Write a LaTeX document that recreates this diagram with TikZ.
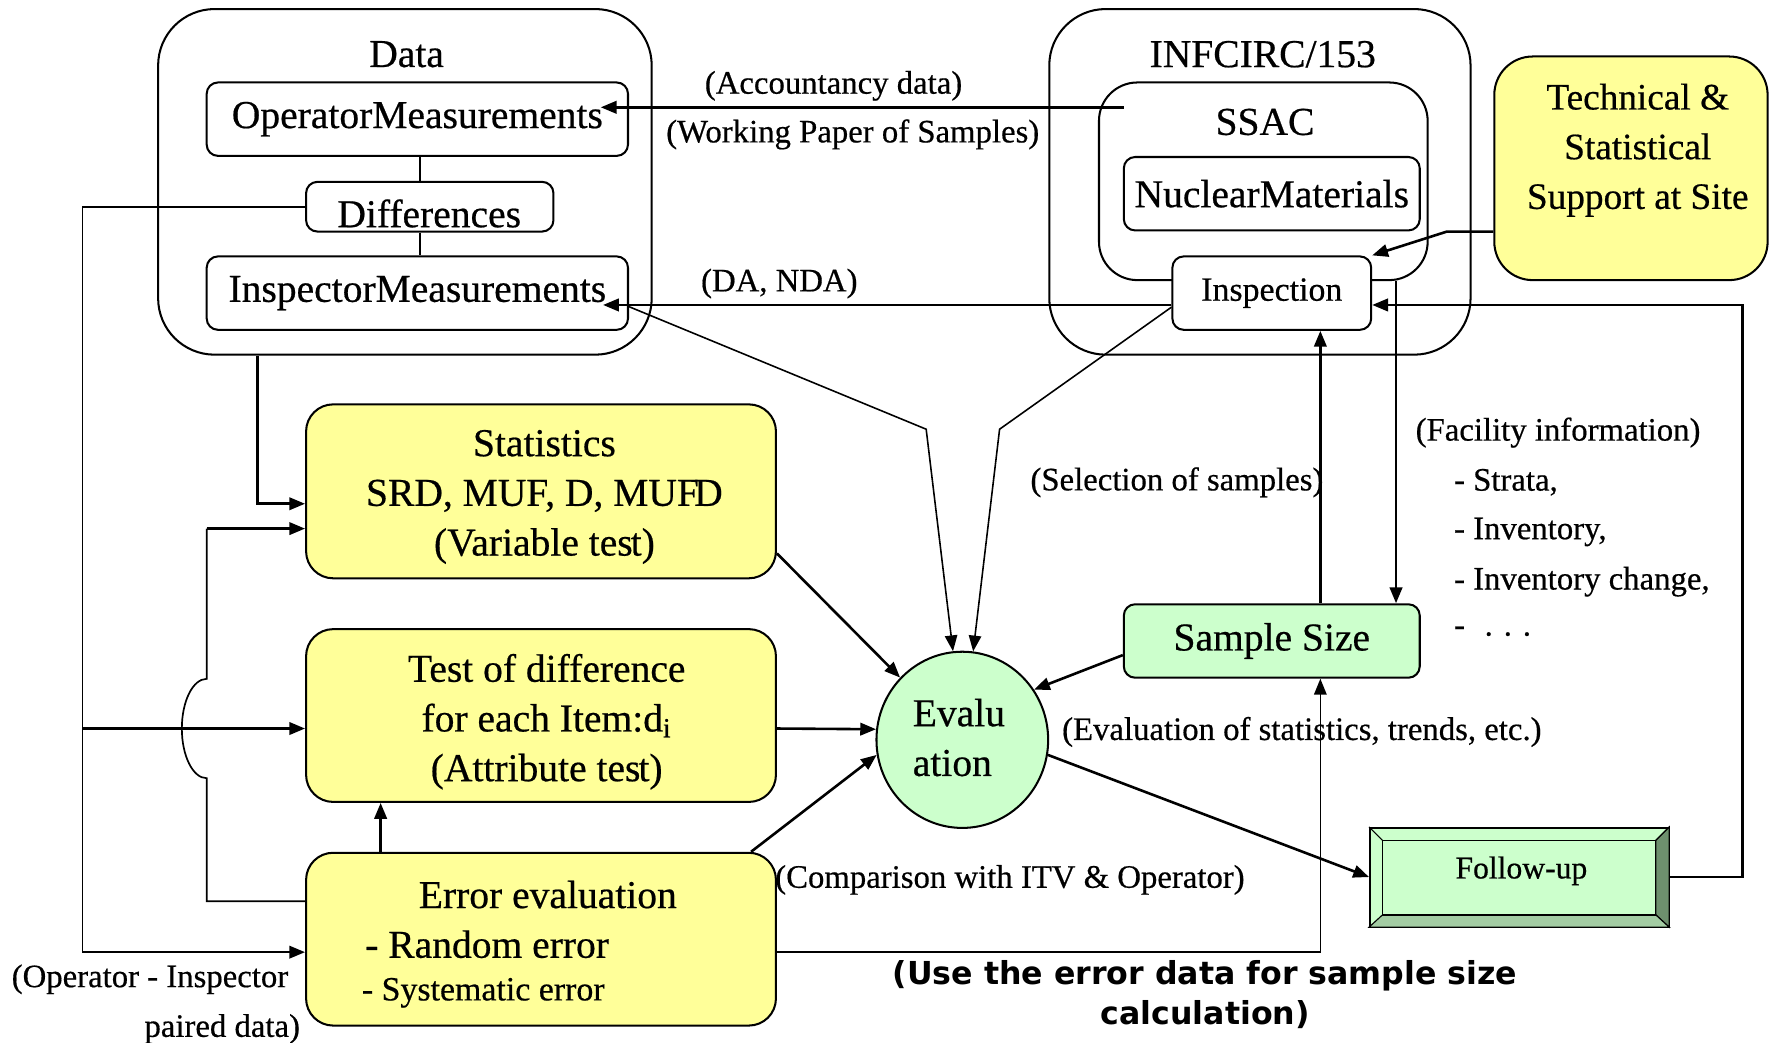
\documentclass[tikz,border=0pt]{standalone}
\usepackage{fontspec}
\setmainfont{Liberation Serif}[FakeBold=0.5]
\newfontfamily\headsans{DejaVu Sans}
\usetikzlibrary{arrows.meta,shapes.geometric}

\definecolor{boxyellow}{HTML}{FFFF99}
\definecolor{boxgreen}{HTML}{CCFFCC}
\definecolor{bevelDark}{HTML}{6E906E}
\definecolor{bevelMid}{HTML}{A3CCA3}

\tikzset{
  big/.style={font=\fontsize{17.5}{22}\selectfont},
  mid/.style={font=\fontsize{15}{19}\selectfont},
  lbl/.style={font=\fontsize{14.5}{18}\selectfont, inner sep=0pt},
  panel/.style={draw, line width=0.9pt, rounded corners=#1, inner sep=0pt},
  plainbox/.style={draw, line width=0.9pt, rounded corners=5pt, fill=white, inner sep=0pt, big},
  ybox/.style={draw, line width=0.9pt, rounded corners=12pt, fill=boxyellow, inner sep=0pt,
    minimum width=208pt, minimum height=76.5pt},
  ytext/.style={big, align=center},
  tip/.style={-{Triangle[length=7pt,width=5.5pt]}},
  arr/.style={line width=1.15pt, tip},
  thinarr/.style={line width=0.7pt, tip},
  wire/.style={line width=0.75pt},
}

\begin{document}
\begin{tikzpicture}[x=0.5pt,y=-0.5pt]
\useasboundingbox (0,0) rectangle (1568,923);

% ---------- Data panel ----------
\node[panel=25pt, minimum width=218.5pt, minimum height=153pt] (data) at (358.5,161) {};
\node[big] (dataLbl) at (360,48) {Data};
\node[plainbox, minimum width=186.5pt, minimum height=32.5pt] (op) at (369.5,105.5) {OperatorMeasurements};
\node[plainbox, minimum width=109.5pt, minimum height=22pt] (diff) at (380.5,183) {};
\node[big] (diffTxt) at (380,189) {Differences};
\node[plainbox, minimum width=186.5pt, minimum height=32.5pt] (im) at (369.5,259.5) {InspectorMeasurements};
\draw[wire] (op.south -| 372,0) -- (diff.north -| 372,0);
\draw[wire] (diff.south -| 372,0) -- (im.north -| 372,0);

% ---------- INFCIRC/153 panel ----------
\node[panel=25pt, minimum width=186.5pt, minimum height=153pt] (infc) at (1115.5,161) {};
\node[big] (infcLbl) at (1118,48) {INFCIRC/153};
\node[panel=17pt, minimum width=145.5pt, minimum height=87.5pt] (ssac) at (1118.5,160.5) {};
\node[big] (ssacLbl) at (1120,108) {SSAC};
\node[plainbox, minimum width=131pt, minimum height=32.5pt] (nm) at (1126,171.5) {NuclearMaterials};
\node[plainbox, mid, minimum width=88pt, minimum height=32.5pt] (insp) at (1126,259.5) {Inspection};

% ---------- support box ----------
\node[panel=17pt, fill=boxyellow, minimum width=121pt, minimum height=99pt] (tech) at (1444,149) {};
\node[align=center, font=\fontsize{16.5}{22}\selectfont] (techTxt) at (1450,133)
      {Technical \&\\Statistical\\Support at Site};

% ---------- analysis boxes ----------
\node[ybox, minimum height=77pt] (stat) at (479,435) {};
\node[ytext] (statTxt) at (482,440) {Statistics\\SRD, MUF, D, MUF\kern-0.12emD\\(Variable tes\kern-0.05emt)};
\node[ybox] (test) at (479,633.5) {};
\node[ytext] (testTxt) at (484,639) {Test of difference\\for each Item:d\textsubscript{i}\\(Attribute tes\kern-0.05emt)};
\node[ybox] (err) at (479,831.5) {};
\node[big] (errT1) at (485,792) {Error evaluation};
\node[big, anchor=west, inner sep=0pt] (errT2) at (323,836) {- Random error};
\node[mid, anchor=west, inner sep=0pt] (errT3) at (320,879) {- Systematic error};

\node[ellipse, draw, line width=0.9pt, fill=boxgreen, minimum width=76pt, minimum height=78pt, inner sep=0pt] (eval) at (852,655) {};
\node[big, align=left] (evalTxt) at (849,653) {Evalu\\ation};

\node[plainbox, fill=boxgreen, minimum width=131pt, minimum height=32.5pt] (sample) at (1126,567.5) {Sample Size};

% ---------- follow-up (bevelled frame) ----------
\node[draw, line width=0.9pt, fill=boxgreen, minimum width=132pt, minimum height=43.5pt, inner sep=0pt] (follow) at (1345,776.5) {};
\coordinate (fiNW) at (1224,744);
\coordinate (fiNE) at (1466,744);
\coordinate (fiSE) at (1466,810);
\coordinate (fiSW) at (1224,810);
\filldraw[line width=0.5pt, fill=bevelDark] (follow.north east) -- (follow.south east) -- (fiSE) -- (fiNE) -- cycle;
\filldraw[line width=0.5pt, fill=bevelMid] (follow.south west) -- (follow.south east) -- (fiSE) -- (fiSW) -- cycle;
\draw[line width=0.5pt] (follow.north west) -- (fiNW) (follow.north east) -- (fiNE);
\draw[line width=0.6pt] (fiNW) rectangle (fiSE);
\node[font=\fontsize{14}{17}\selectfont] (followTxt) at (1347,771) {Follow-up};

% ---------- connectors at the top ----------
\coordinate (accStart) at (995,95);
\draw[arr] (accStart) -- ([xshift=-12.5pt,yshift=5.25pt]op.east);
\draw[arr] ([yshift=-5.25pt]insp.west) -- ([xshift=-11.5pt,yshift=-5.25pt]im.east);
\draw[arr] ([yshift=-28pt]tech.west) -- ++(-41,0) -- (insp.north east);

\coordinate (inspR) at ([yshift=-5.25pt]insp.east);
\coordinate (rightRail) at (1543,0);
\draw[arr] (follow.east) -- (follow.east -| rightRail) -- (rightRail |- inspR) -- (inspR);

\coordinate (fac) at ([xshift=55pt]sample.north);
\draw[arr] (fac |- ssac.south) -- (fac);
\draw[arr] ([xshift=21.5pt]sample.north) -- ([xshift=21.5pt]insp.south);

% ---------- inputs of the evaluation ----------
\draw[thinarr] ([yshift=-6pt]im.east) -- (820,380) -- (eval.96);
\draw[thinarr] ([yshift=-6.25pt]insp.west) -- (885,380) -- (eval.83);
\draw[arr] ([yshift=-27.5pt]stat.east) -- (eval.135);
\draw[arr] ([yshift=-5.75pt]test.east) -- (eval.173);
\draw[arr] ([xshift=93pt]err.north) -- (eval.190);
\draw[arr] ([yshift=-6.25pt]sample.west) -- (eval.35);
\draw[arr] (eval.-10) -- (follow.west);
\draw[wire, tip] ([yshift=-5.75pt]err.east) -| ([xshift=21.5pt]sample.south);

% ---------- data feeds on the left ----------
\coordinate (leftRail) at (73,0);
\coordinate (errIn) at ([yshift=-5.75pt]err.west);
\coordinate (testIn) at ([yshift=-5.75pt]test.west);
\draw[wire] (diff.west) -| (leftRail |- errIn);
\draw[arr] (leftRail |- errIn) -- (errIn);
\draw[arr] (leftRail |- testIn) -- (testIn);
\draw[arr] ([xshift=-65.25pt]data.south) |- ([yshift=-5.5pt]stat.west);
\coordinate (errOut) at ([yshift=16.75pt]err.west);
\coordinate (statIn) at ([yshift=-16.5pt]stat.west);
\draw[wire] (errOut) -- (183,798) -- (183,689)
  arc[start angle=-90, end angle=-270, x radius=11pt, y radius=22pt] -- (183,468);
\draw[arr] (183,468) -- (statIn);
\draw[arr] ([xshift=-71pt]err.north) -- ([xshift=-71pt]test.south);

% ---------- labels ----------
\node[lbl] (lAcc) at (738,76) {(Accountancy data)};
\node[lbl] (lWp) at (755,119) {(Working Paper of Samples)};
\node[lbl] (lDa) at (690,251) {(DA, NDA)};
\node[lbl] (lSel) at (1042,427) {(Selection of samples)};
\node[lbl, anchor=west] (lEvs) at (940,648) {(Evaluation of statistics, trends, etc.)};
\node[lbl, anchor=west] (lCmp) at (686,779) {(Comparison with ITV \& Operator)};
\node[lbl, anchor=west] (lFac) at (1253,383) {(Facility information)};
\node[lbl, anchor=west] (lF1) at (1287,427) {- Strata,};
\node[lbl, anchor=west] (lF2) at (1287,471) {- Inventory,};
\node[lbl, anchor=west] (lF3) at (1287,515) {- Inventory change,};
\node[lbl, anchor=west] (lF4) at (1287,559) {-\hspace{0.6em}. . .};
\node[lbl, anchor=west] (lOp) at (10,867) {(Operator - Inspector};
\node[lbl, anchor=east] (lPd) at (266,911) {paired data)};
\node[font=\headsans\bfseries\fontsize{14}{17}\selectfont] (lUse1) at (1067,864) {(Use the error data for sample size};
\node[font=\headsans\bfseries\fontsize{14}{17}\selectfont] (lUse2) at (1067,898) {calculation)};
\end{tikzpicture}
\end{document}
